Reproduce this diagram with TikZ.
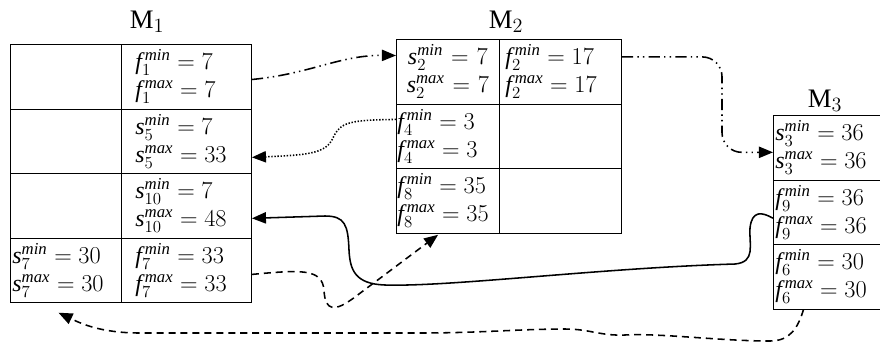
\documentclass[tikz,border=0pt]{standalone}
\usepackage{fontspec}
\setmainfont{Liberation Serif}
\usepackage{tikz}
\usetikzlibrary{arrows.meta}

\newcommand{\cellfont}{\fontsize{17}{20}\selectfont}
\newcommand{\titlefont}{\fontsize{19}{23}\selectfont}
% two bounds of one operation (optional kern before the superscript)
\newcommand{\bnd}[5][0pt]{$\mathit{#2}_{#3}^{\kern#1\mathit{min}} = #4$\\$\mathit{#2}_{#3}^{\kern#1\mathit{max}} = #5$}

\tikzset{
  cell/.style={draw, line width=0.6pt, anchor=north west, inner ysep=0pt,
    minimum height=1.6125cm, align=left, font=\cellfont},
  title/.style={anchor=base, inner sep=0pt, font=\titlefont},
  link/.style={line width=1.1pt, -{Triangle[length=10pt,width=8pt]}},
  linkdd/.style={link, dash pattern=on 8pt off 3pt on 1pt off 3pt on 1pt off 3pt},
  linkdot/.style={link, dash pattern=on 1pt off 1.2pt},
  linkdash/.style={link, dash pattern=on 5pt off 3.5pt},
}

\begin{document}
\begin{tikzpicture}[x=0.025cm, y=-0.025cm]
    \useasboundingbox (0,0) rectangle (880,344);
    % machine titles
    \node[title] (m1lab) at (147,28) {M$_1$};
    \node[title] (m2lab) at (506,28) {M$_2$};
    \node[title] (m3lab) at (825,107) {M$_3$};
    % machine 1
    \node[cell, minimum width=2.775cm] (m1e1) at (10,44) {};
    \node[cell, text width=2.55cm, inner xsep=0.35cm] (m1f1) at (121,44) {\bnd[2pt]{f}{1}{7}{7}};
    \node[cell, minimum width=2.775cm] (m1e2) at (10,108.5) {};
    \node[cell, text width=2.55cm, inner xsep=0.35cm] (m1s5) at (121,108.5) {\bnd{s}{5}{7}{33}};
    \node[cell, minimum width=2.775cm] (m1e3) at (10,173) {};
    \node[cell, text width=2.55cm, inner xsep=0.35cm] (m1s10) at (121,173) {\bnd{s}{10}{7}{48}};
    \node[cell, text width=2.675cm, inner xsep=0.05cm] (m1s7) at (10,237.5) {\bnd{s}{7}{30}{30}};
    \node[cell, text width=2.55cm, inner xsep=0.35cm] (m1f7) at (121,237.5) {\bnd[2pt]{f}{7}{33}{33}};
    % machine 2
    \node[cell, text width=2.475cm, inner xsep=0.05cm, align=center] (m2s2) at (396,39) {\bnd{s}{2}{7}{7}};
    \node[cell, text width=2.75cm, inner xsep=0.15cm] (m2f2) at (499,39) {\bnd[2pt]{f}{2}{17}{17}};
    \node[cell, text width=2.525cm, inner xsep=0.025cm] (m2f4) at (396,103.5) {\bnd[2pt]{f}{4}{3}{3}};
    \node[cell, minimum width=3.05cm] (m2e2) at (499,103.5) {};
    \node[cell, text width=2.525cm, inner xsep=0.025cm] (m2f8) at (396,168) {\bnd[2pt]{f}{8}{35}{35}};
    \node[cell, minimum width=3.05cm] (m2e3) at (499,168) {};
    % machine 3
    \node[cell, text width=2.6cm, inner xsep=0.05cm] (m3s3) at (773,115) {\bnd{s}{3}{36}{36}};
    \node[cell, text width=2.6cm, inner xsep=0.05cm] (m3f9) at (773,179.5) {\bnd[2pt]{f}{9}{36}{36}};
    \node[cell, text width=2.6cm, inner xsep=0.05cm] (m3f6) at (773,244) {\bnd[2pt]{f}{6}{30}{30}};
    % transfers
    \draw[linkdd] ([yshift=-2pt]m1f1.east) .. controls (310,74) and (340,55) .. ([yshift=11.5pt]m2s2.west);
    \draw[linkdd, rounded corners=14pt] ([yshift=10.5pt]m2f2.east) -| (722,110) |- ([yshift=-3.3pt]m3s3.west);
    \draw[linkdot] ([yshift=11.9pt]m2f4.west) .. controls (350,120) and (340,122) .. (333,138)
        .. controls (326,153) and (310,155) .. ([yshift=-11.5pt]m1s5.east);
    \draw[link] ([yshift=-4.3pt]m3f9.west) .. controls (762,212) and (752,210) .. (750,228)
        .. controls (749,245) and (756,262) .. (735,264)
        .. controls (600,268) and (450,287) .. (385,285)
        .. controls (355,284) and (350,270) .. (349,250)
        .. controls (348,225) and (345,216) .. (325,216) -- ([yshift=-9pt]m1s10.east);
    \draw[linkdash] ([yshift=-3pt]m1f7.east) .. controls (300,270) and (322,268) .. (324,290)
        .. controls (325,312) and (335,312) .. (355,297) -- ([xshift=-7pt,yshift=-1pt]m2f8.south);
    \draw[linkdash] ([xshift=-17pt]m3f6.south) .. controls (798,328) and (790,341) .. (770,341)
        .. controls (720,341) and (660,333) .. (625,335)
        .. controls (600,336) and (590,329) .. (565,329)
        .. controls (520,329) and (480,333) .. (420,333) -- (140,333)
        .. controls (100,333) and (80,323) .. ([xshift=-5.3pt,yshift=-7pt]m1s7.south);
\end{tikzpicture}
\end{document}
